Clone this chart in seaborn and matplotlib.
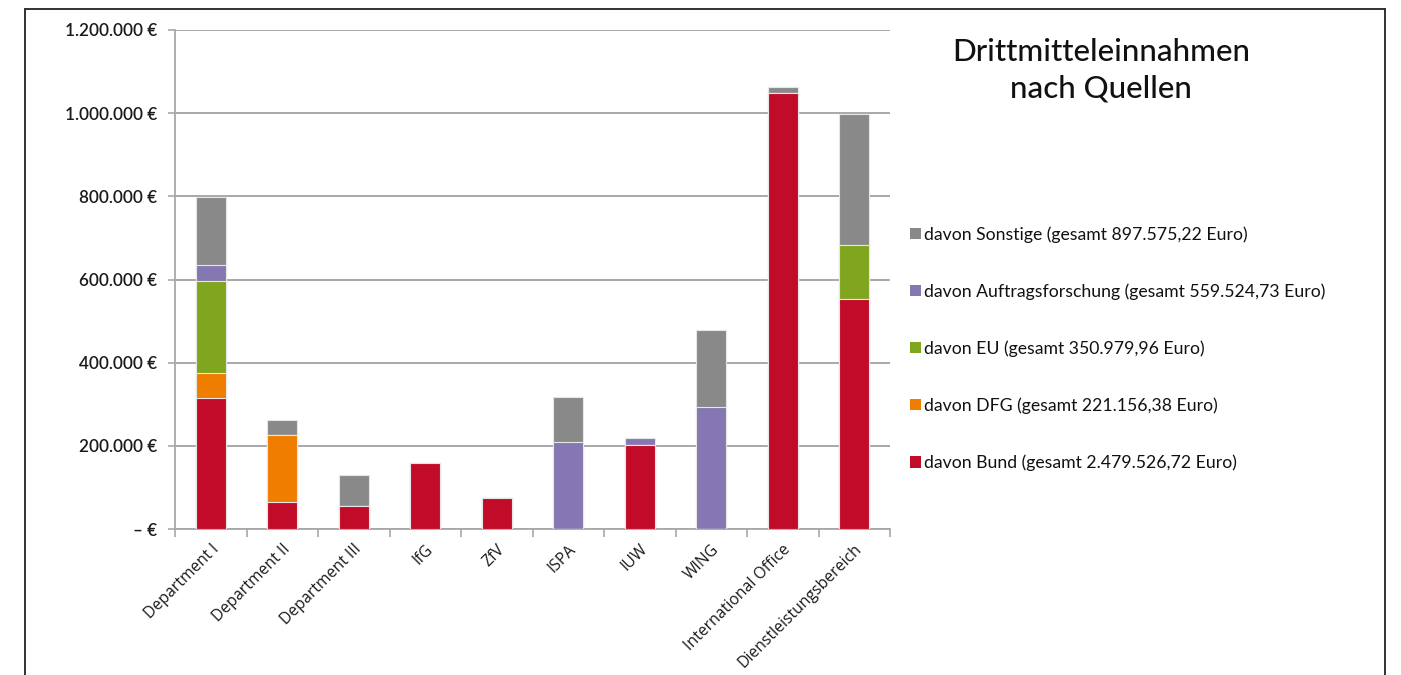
import numpy as np
import pandas as pd
import matplotlib
matplotlib.use("Agg")
import matplotlib.pyplot as plt
from matplotlib.ticker import FuncFormatter, FixedLocator, NullFormatter
from matplotlib.patches import Patch
from matplotlib.lines import Line2D
import seaborn as sns

# Einrichtungen
categories = ["Department I", "Department II", "Department III", "IfG", "ZfV",
              "ISPA", "IUW", "WING", "International Office", "Dienstleistungsbereich"]

# Drittmitteleinnahmen je Quelle (Euro)
bund = [314000, 66000, 55000, 159000, 75000, 0, 201000, 0, 1049500, 552500]
dfg = [62000, 159000, 0, 0, 0, 0, 0, 0, 0, 0]
eu = [221000, 0, 0, 0, 0, 0, 0, 0, 0, 130000]
auftrag = [37000, 0, 0, 0, 0, 210000, 17000, 293000, 0, 0]
sonstige = [164000, 37000, 76000, 0, 0, 108000, 0, 185500, 13000, 316000]

series_names = ["davon Bund (gesamt 2.479.526,72 Euro)",
                "davon DFG (gesamt 221.156,38 Euro)",
                "davon EU (gesamt 350.979,96 Euro)",
                "davon Auftragsforschung (gesamt 559.524,73 Euro)",
                "davon Sonstige (gesamt 897.575,22 Euro)"]
series_colors = ["#C20B28", "#EE7D00", "#80A51E", "#8578B2", "#898989"]

y_ticks = [0, 200000, 400000, 600000, 800000, 1000000, 1200000]

sns.set_theme(style="white")
plt.rcParams["font.family"] = ["Lato", "DejaVu Sans"]

fig = plt.figure(figsize=(14.01, 6.75), dpi=100)
ax = fig.add_axes([175 / 1401, 1 - 529 / 675, (890 - 175) / 1401, (529 - 30) / 675])

layers = [bund, dfg, eu, auftrag, sonstige]
cum = np.cumsum(np.array(layers, dtype=float), axis=0)

# stacked bars: draw cumulative totals from the top layer downwards
for i in range(len(layers) - 1, -1, -1):
    df = pd.DataFrame({"Einrichtung": categories, "Wert": cum[i]})
    sns.barplot(data=df, x="Einrichtung", y="Wert", color=series_colors[i],
                saturation=1, width=0.42, edgecolor="#E6E6E6", linewidth=0.8,
                ax=ax, zorder=3)

ax.set_xlim(-0.5, len(categories) - 0.5)
ax.set_ylim(0, 1200000)
ax.set_yticks(y_ticks)


def euro(v, pos):
    if v == 0:
        return "– €"
    return f"{int(v):,}".replace(",", ".") + " €"


ax.yaxis.set_major_formatter(FuncFormatter(euro))
ax.grid(axis="y", color="#9A9A9A", linewidth=1.2, zorder=0)
ax.grid(axis="x", visible=False)
ax.set_xlabel("")
ax.set_ylabel("")

for side in ["top", "right"]:
    ax.spines[side].set_visible(False)
for side in ["left", "bottom"]:
    ax.spines[side].set_color("#A8A8A8")
    ax.spines[side].set_linewidth(1.3)

ax.tick_params(axis="y", which="major", left=True, length=5, width=1.2,
               color="#A8A8A8", labelsize=12.3, pad=8)
for lab in ax.get_yticklabels():
    lab.set_fontweight("semibold")
    lab.set_color("#1A1A1A")

ax.set_xticks(range(len(categories)))
ax.set_xticklabels(categories, rotation=45, ha="right", rotation_mode="anchor",
                   fontsize=11.3, color="#1A1A1A",
                   family=["Open Sans", "DejaVu Sans"])
ax.tick_params(axis="x", which="major", length=0, pad=9)
ax.xaxis.set_minor_locator(FixedLocator(np.arange(-0.5, len(categories), 1.0)))
ax.xaxis.set_minor_formatter(NullFormatter())
ax.tick_params(axis="x", which="minor", bottom=True, length=6, width=1.2,
               color="#A8A8A8")

# Titel
fig.text(1101 / 1401, 1 - 70 / 675, "Drittmitteleinnahmen\nnach Quellen",
         ha="center", va="center", fontsize=22.5, fontweight="medium",
         color="#111111", linespacing=1.35)

# Legende (oberste Schicht zuerst)
handles = [Patch(facecolor=series_colors[i], edgecolor="none")
           for i in range(len(layers) - 1, -1, -1)]
labels = [series_names[i] for i in range(len(layers) - 1, -1, -1)]
fig.legend(handles, labels, loc="upper left",
           bbox_to_anchor=(903 / 1401, 1 - 219 / 675), frameon=False,
           fontsize=12.7, handlelength=0.6, handleheight=0.6, handletextpad=0.2,
           labelspacing=2.3, borderaxespad=0, labelcolor="#111111")

# Rahmen
frame_color = "#222222"
fig.add_artist(Line2D([25 / 1401, 25 / 1401], [0, 1 - 9 / 675],
                      transform=fig.transFigure, color=frame_color, linewidth=1.3))
fig.add_artist(Line2D([1385 / 1401, 1385 / 1401], [0, 1 - 9 / 675],
                      transform=fig.transFigure, color=frame_color, linewidth=1.3))
fig.add_artist(Line2D([25 / 1401, 1385 / 1401], [1 - 9 / 675, 1 - 9 / 675],
                      transform=fig.transFigure, color=frame_color, linewidth=1.3))

fig.savefig("out.png", dpi=100, facecolor="white")
